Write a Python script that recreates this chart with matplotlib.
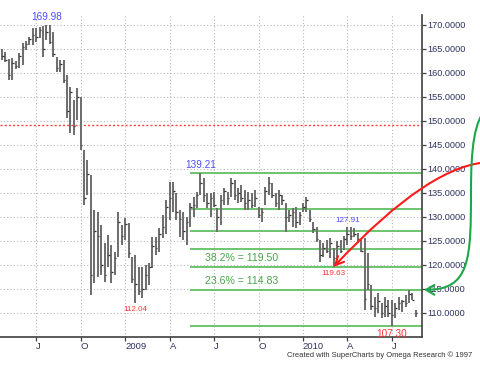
import numpy as np
import matplotlib
matplotlib.use('Agg')
import matplotlib.pyplot as plt
from matplotlib.patches import ConnectionPatch, FancyArrowPatch
from matplotlib.path import Path

plt.rcParams['font.family'] = ['Liberation Sans', 'DejaVu Sans']

# weekly bars, Apr 2008 - Jul 2010
highs = [
    165.0, 164.4, 163.0, 163.1, 162.6, 164.2, 166.3, 166.6, 167.5, 169.4,
    169.4, 169.6, 169.7, 169.98, 169.9, 168.6, 163.3, 162.7, 162.7, 159.6,
    157.1, 154.4, 156.9, 155.0, 144.0, 141.9, 138.8, 131.5, 131.0, 128.3,
    124.6, 126.3, 124.2, 122.7, 131.0, 128.3, 129.8, 128.8, 121.7, 122.1,
    119.6, 119.6, 120.0, 120.4, 125.8, 125.8, 127.7, 130.4, 133.5, 137.3,
    137.3, 135.0, 131.5, 131.0, 130.0, 132.9, 134.2, 135.2, 139.21, 138.1,
    135.0, 135.0, 135.2, 131.9, 134.6, 136.0, 135.2, 138.1, 137.7, 136.0,
    136.7, 135.6, 135.2, 135.0, 135.6, 132.1, 131.9, 136.3, 138.3, 137.0,
    135.0, 135.6, 134.5, 132.9, 131.5, 131.9, 132.1, 131.0, 132.9, 134.2,
    131.5, 129.0, 127.9, 125.2, 124.6, 125.2, 125.6, 123.5, 125.0, 125.2,
    126.0, 127.91, 127.9, 127.7, 126.7, 125.2, 125.6, 122.5, 115.8, 113.3,
    114.2, 112.1, 113.4, 112.7, 112.7, 112.1, 113.3, 112.7, 113.8, 114.8,
    114.2, 110.6]
lows = [
    162.7, 162.3, 158.5, 158.5, 160.8, 161.0, 161.7, 164.8, 165.9, 165.8,
    166.5, 167.3, 163.3, 166.9, 166.0, 163.3, 160.2, 160.2, 157.9, 150.6,
    147.5, 147.0, 150.2, 144.0, 132.5, 134.6, 113.7, 116.2, 117.5, 117.9,
    116.5, 119.6, 116.3, 117.9, 121.7, 124.2, 125.2, 121.5, 116.3, 112.04,
    113.8, 113.1, 114.8, 115.8, 119.4, 122.1, 122.7, 125.6, 126.5, 129.4,
    131.0, 129.4, 125.8, 125.2, 124.2, 127.9, 130.0, 131.9, 134.6, 133.1,
    131.9, 130.0, 132.1, 126.9, 128.3, 132.5, 132.5, 134.2, 133.5, 132.9,
    133.1, 131.5, 131.5, 131.8, 132.1, 129.8, 129.0, 132.5, 134.6, 133.9,
    132.1, 131.5, 132.5, 126.9, 129.0, 127.9, 127.7, 128.3, 131.0, 131.0,
    129.0, 126.7, 124.8, 120.6, 121.7, 122.5, 121.5, 119.63, 121.0, 122.5,
    123.1, 124.2, 125.2, 125.8, 124.6, 122.7, 110.6, 114.8, 110.6, 109.2,
    110.0, 109.0, 109.2, 109.2, 107.30, 109.0, 110.6, 110.2, 111.3, 112.1,
    112.7, 109.2]
closes = [
    163.5, 162.8, 159.5, 162.0, 161.5, 163.5, 165.5, 166.0, 167.0, 168.0,
    167.5, 169.0, 165.0, 168.5, 166.5, 164.0, 161.0, 161.8, 158.5, 152.0,
    156.0, 149.0, 155.0, 145.0, 134.0, 139.0, 118.0, 127.0, 126.0, 120.0,
    118.0, 122.0, 118.5, 121.5, 129.0, 126.0, 128.5, 122.5, 117.0, 116.0,
    114.5, 115.0, 118.0, 119.5, 124.0, 123.5, 126.5, 128.0, 132.0, 134.0,
    135.5, 131.0, 129.5, 127.0, 129.0, 132.0, 132.5, 134.5, 137.0, 134.5,
    133.0, 134.0, 132.5, 130.0, 133.5, 135.5, 134.0, 137.0, 134.5, 135.0,
    134.0, 133.0, 133.5, 132.5, 134.0, 130.5, 131.0, 135.5, 137.0, 134.5,
    133.0, 134.5, 133.5, 130.0, 130.5, 131.0, 129.0, 130.5, 132.0, 133.5,
    129.5, 127.5, 125.5, 122.0, 123.5, 123.0, 124.5, 121.5, 124.0, 123.0,
    125.5, 126.5, 126.0, 126.5, 125.5, 123.0, 113.0, 116.0, 111.5, 111.0,
    112.5, 110.0, 111.5, 110.0, 109.5, 111.0, 112.0, 112.5, 112.0, 114.0,
    112.8, 110.0]

quarter_idx = [10, 23, 36, 49, 62, 75, 88, 101, 114]
quarter_labels = ['J', 'O', '2009', 'A', 'J', 'O', '2010', 'A', 'J']

# swing points marked on the chart: (bar, price, above?)
swing_marks = [(13, 169.98, True), (39, 112.04, False), (58, 139.21, True),
               (97, 119.63, False), (101, 127.91, True), (114, 107.30, False)]

fib_high = 139.21
fib_low = 107.30
fib_ratios = [0.0, 0.236, 0.382, 0.5, 0.618, 0.764, 1.0]
fib_texts = {0.382: '38.2% = 119.50', 0.236: '23.6% = 114.83'}
red_level = 149.2

x = np.arange(len(highs))

fig = plt.figure(figsize=(4.8, 3.66), dpi=100)
ax = fig.add_axes([0.0, 1 - 337 / 366, 422 / 480, (337 - 15) / 366])
ax.set_xlim(-0.58, 122.8)
ax.set_ylim(105.0, 172.08)

# grid
for q in quarter_idx:
    ax.axvline(q, color='#b8b8b8', lw=0.8, ls=(0, (1, 2)), zorder=0)
for lvl in np.arange(110, 171, 5):
    ax.axhline(lvl, color='#b8b8b8', lw=0.8, ls=(0, (1, 2)), zorder=0)

ax.axhline(red_level, color='#ff4040', lw=1.0, ls=(0, (1.5, 1.5)), zorder=1)

# fibonacci levels
fib_start = 55
for r in fib_ratios:
    lvl = fib_low + r * (fib_high - fib_low)
    ax.hlines(lvl, fib_start, 122.8, color='#6cc46c', lw=1.4, zorder=1)
    if r in fib_texts:
        ax.text(59.4, lvl + 1.9, fib_texts[r], color='#4aa54a', fontsize=7.6,
                va='center', ha='left')

# bars
ax.vlines(x, lows, highs, color='#707070', lw=1.45, zorder=3)
ax.hlines(closes, x, x + 0.45, color='#303030', lw=0.9, zorder=4)

for i, p, above in swing_marks:
    big = p in (169.98, 139.21, 107.30)
    ax.annotate(f'{p:.2f}', xy=(i, p), xytext=(0, 2 if above else -2),
                textcoords='offset points', ha='center',
                va='bottom' if above else 'top',
                color='#4b4bff' if above else '#ff3333',
                fontsize=7.2 if big else 5.8)

# axes styling
for s in ['left', 'top']:
    ax.spines[s].set_visible(False)
for s in ['right', 'bottom']:
    ax.spines[s].set_color('#404040')
    ax.spines[s].set_linewidth(1.2)
ax.yaxis.tick_right()
ax.set_yticks(np.arange(110, 171, 5))
ax.set_yticklabels([f'{v:.4f}' for v in np.arange(110, 171, 5)])
ax.set_xticks(quarter_idx)
ax.set_xticklabels(quarter_labels)
ax.tick_params(axis='y', direction='out', length=3, width=0.9, pad=1,
               labelsize=6.6, colors='#404040', labelcolor='#303060')
ax.tick_params(axis='x', direction='out', length=3, width=0.9, pad=0.5,
               labelsize=6.8, colors='#404040', labelcolor='#303060')
for lbl in ax.get_xticklabels():
    lbl.set_horizontalalignment('left')

# red curved arrow pointing at the 119.63 low
red_arrow = ConnectionPatch(xyA=(492 / 480, 204 / 366), coordsA='figure fraction',
                            xyB=(97, 119.63), coordsB=ax.transData,
                            arrowstyle='->,head_length=0.6,head_width=0.3',
                            connectionstyle='angle3,angleA=0,angleB=47',
                            color='#ff1a1a', lw=1.5, shrinkA=0, shrinkB=0,
                            mutation_scale=10)
fig.add_artist(red_arrow)

# green curved arrow pointing at the 23.6% level on the price axis
to_fig = fig.transFigure.inverted()
tip = ax.transData.transform((122.8, fib_low + 0.236 * (fib_high - fib_low)))
tip = to_fig.transform((tip[0] + 2, tip[1]))


def px(a, b):
    return (a / 480, 1 - b / 366)


verts = [px(488, 108), px(474, 118), px(471, 150), px(471, 190),
         px(471, 260), px(470, 290), tuple(tip)]
codes = [Path.MOVETO] + [Path.CURVE4] * 6
green_arrow = FancyArrowPatch(path=Path(verts, codes),
                              arrowstyle='->,head_length=0.6,head_width=0.35',
                              color='#1ca84a', lw=1.5, mutation_scale=10,
                              transform=fig.transFigure)
fig.add_artist(green_arrow)

fig.text(287 / 480, 1 - 355 / 366,
         'Created with SuperCharts by Omega Research \u00a9 1997',
         fontsize=5.4, color='#303030', va='center', ha='left')

fig.savefig('out.png', dpi=100)
